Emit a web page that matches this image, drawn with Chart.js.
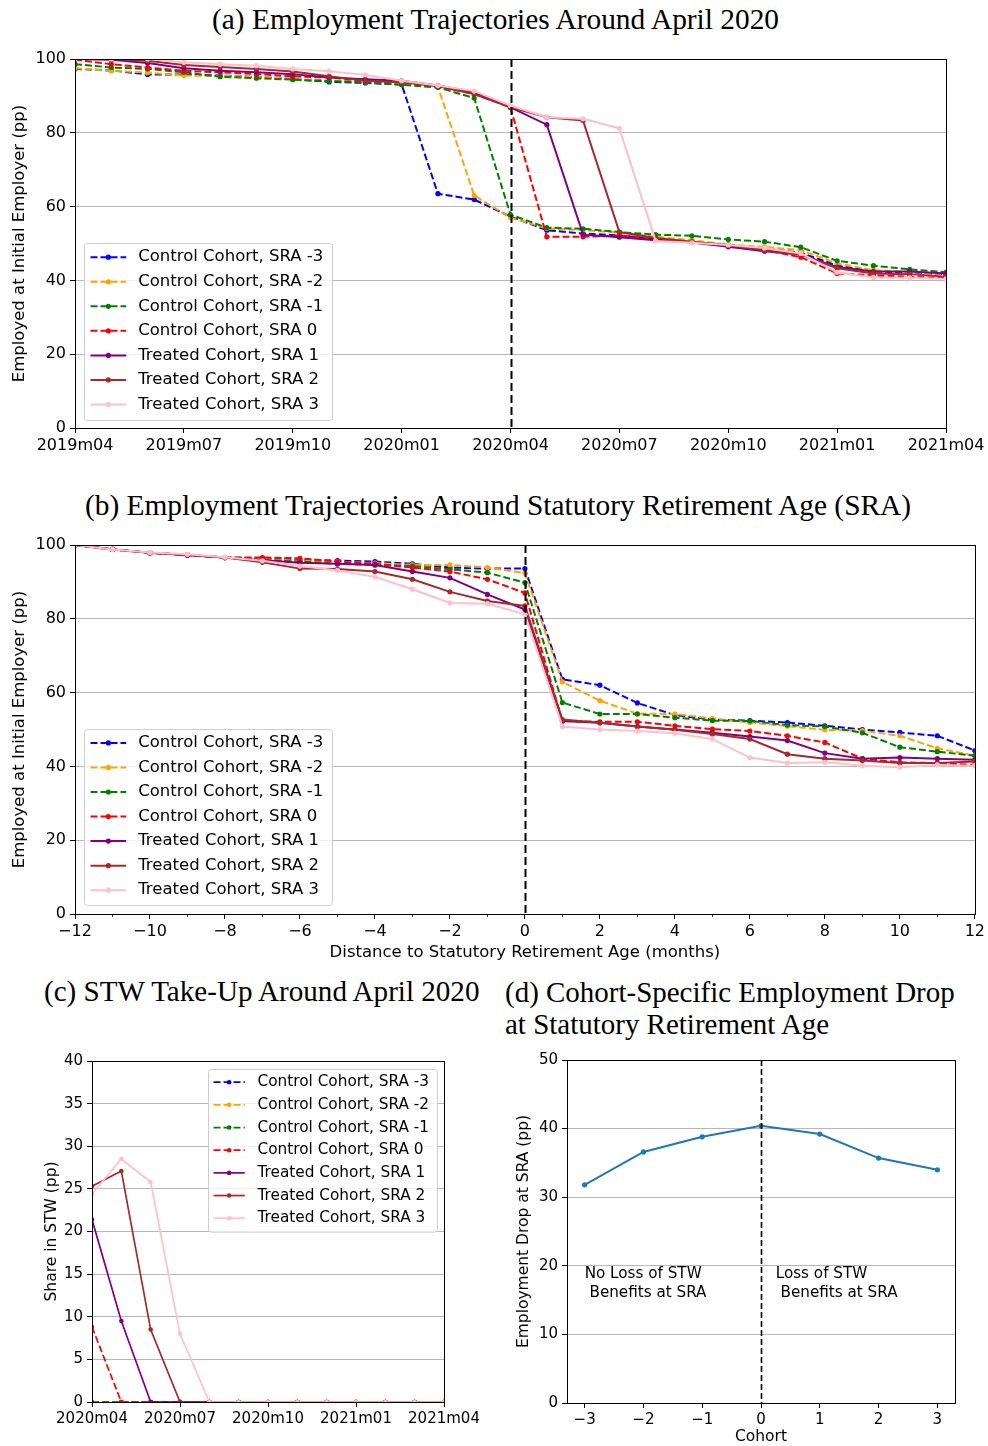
<!DOCTYPE html>
<html><head><meta charset="utf-8">
<script src="https://cdn.jsdelivr.net/npm/chart.js@4.4.1/dist/chart.umd.min.js"></script>
<style>
html,body{margin:0;padding:0;background:#fff;}
body{width:988px;height:1446px;position:relative;overflow:hidden;}
canvas{position:absolute;}
.ttl{position:absolute;font-family:'Liberation Serif',serif;color:#000;white-space:pre;line-height:1;}
</style></head><body>
<div id="tA" class="ttl">(a) Employment Trajectories Around April 2020</div>
<div id="tB" class="ttl">(b) Employment Trajectories Around Statutory Retirement Age (SRA)</div>
<div id="tC" class="ttl">(c) STW Take-Up Around April 2020</div>
<div id="tD1" class="ttl">(d) Cohort-Specific Employment Drop</div>
<div id="tD2" class="ttl">at Statutory Retirement Age</div>
<canvas id="cA" width="988" height="460" style="left:0;top:0;width:988px;height:460px"></canvas>
<canvas id="cB" width="988" height="490" style="left:0;top:480px;width:988px;height:490px"></canvas>
<canvas id="cC" width="494" height="406" style="left:0;top:1040px;width:494px;height:406px"></canvas>
<canvas id="cD" width="494" height="406" style="left:494px;top:1040px;width:494px;height:406px"></canvas>
<script>
// ---------------- DATA ----------------
const seriesLabels = ['Control Cohort, SRA -3','Control Cohort, SRA -2','Control Cohort, SRA -1','Control Cohort, SRA 0','Treated Cohort, SRA 1','Treated Cohort, SRA 2','Treated Cohort, SRA 3'];

// Panel (a): months 2019m04 .. 2021m04
const monthsA = ['2019m04','2019m05','2019m06','2019m07','2019m08','2019m09','2019m10','2019m11','2019m12','2020m01','2020m02','2020m03','2020m04','2020m05','2020m06','2020m07','2020m08','2020m09','2020m10','2020m11','2020m12','2021m01','2021m02','2021m03','2021m04'];
const tickLabelsA = ['2019m04','2019m07','2019m10','2020m01','2020m04','2020m07','2020m10','2021m01','2021m04'];
const eventMonthA = '2020m04';
const a_sraM3 = [97.3,96.9,95.8,95.8,95.5,95.1,94.6,93.8,93.5,93.1,63.5,61.9,57.3,53.6,52.7,52.2,51.3,50.5,49.6,48.7,47.5,44.0,42.4,42.2,41.7];
const a_sraM2 = [97.5,96.8,96.3,95.5,95.4,95.2,94.6,94.2,93.8,93.3,92.5,63.0,57.0,54.1,53.6,53.0,51.8,50.9,49.7,49.1,48.2,44.6,42.8,42.3,41.7];
const a_sraM1 = [98.6,97.7,97.3,96.4,95.2,94.8,94.4,94.0,93.7,93.0,92.3,89.4,57.8,54.3,54.0,53.1,52.4,52.1,51.1,50.5,49.0,45.3,44.0,43.0,42.2];
const a_sra0  = [99.8,98.6,97.7,96.8,96.4,95.9,95.3,95.0,94.1,93.7,92.6,90.5,86.9,51.8,51.8,52.2,51.3,50.3,49.6,48.2,46.3,41.9,41.4,41.0,40.6];
const a_sra1  = [100,99.8,98.9,97.5,96.8,96.4,95.9,95.0,94.5,94.1,92.8,91.0,86.9,82.2,52.4,51.7,50.9,50.3,49.1,47.9,47.0,43.6,42.4,42.4,41.9];
const a_sra2  = [100,100,99.5,98.4,97.8,97.3,96.6,95.3,94.1,93.7,92.6,90.5,86.9,84.2,83.3,53.1,51.5,50.5,49.5,48.2,47.0,43.3,41.9,41.7,41.0];
const a_sra3  = [100,100,100,99.1,98.6,98.2,97.3,96.7,95.7,94.1,92.8,91.3,87.4,84.2,83.8,81.2,50.7,50.2,49.6,48.8,47.3,42.2,40.8,40.7,40.4];

// Panel (b): distance to SRA in months
const distanceB = [-12,-11,-10,-9,-8,-7,-6,-5,-4,-3,-2,-1,0,1,2,3,4,5,6,7,8,9,10,11,12];
const tickValuesB = [-12,-10,-8,-6,-4,-2,0,2,4,6,8,10,12];
const minorTicksB = [-11,-9,-7,-5,-3,-1,1,3,5,7,9,11];
const b_sraM3 = [100,98.8,97.9,97.3,96.6,96.4,95.9,95.8,95.5,94.9,93.9,93.6,93.6,63.6,62.0,57.2,53.9,52.7,52.4,51.9,51.0,50.0,49.2,48.3,44.3];
const b_sraM2 = [100,98.8,97.9,97.3,96.6,96.2,95.7,95.5,95.1,94.6,94.6,93.9,92.4,62.9,57.8,54.3,54.2,53.0,51.9,50.9,49.9,49.7,48.3,44.9,42.9];
const b_sraM1 = [100,98.8,97.9,97.3,96.6,95.9,95.5,94.9,94.6,94.3,93.4,92.5,89.8,57.3,54.2,54.2,53.2,52.4,52.3,51.2,50.8,49.1,45.2,44.0,42.9];
const b_sra0  = [100,98.8,97.9,97.3,96.6,96.6,96.4,95.5,94.9,93.9,92.8,90.7,87.0,52.3,52.1,52.1,51.0,50.1,49.6,48.3,46.5,42.1,41.1,40.9,40.4];
const b_sra1  = [100,98.8,97.9,97.3,96.6,95.9,95.2,94.9,94.6,92.8,91.1,86.6,82.5,52.3,51.8,50.8,50.0,49.1,48.1,47.0,43.6,42.1,42.4,42.1,41.8];
const b_sra2  = [100,98.8,97.9,97.3,96.6,95.3,93.6,93.5,92.8,90.7,87.3,84.8,83.5,52.7,51.8,50.8,49.9,48.8,47.4,43.3,42.1,41.6,40.9,40.9,41.3];
const b_sra3  = [100,98.8,98.0,97.5,96.7,95.7,94.3,93.1,91.4,88.0,84.3,84.1,81.2,50.8,50.0,49.6,49.0,47.4,42.4,40.9,41.1,40.2,39.8,40.4,40.2];

// Panel (c): months 2020m04 .. 2021m04
const monthsC = ['2020m04','2020m05','2020m06','2020m07','2020m08','2020m09','2020m10','2020m11','2020m12','2021m01','2021m02','2021m03','2021m04'];
const tickLabelsC = ['2020m04','2020m07','2020m10','2021m01','2021m04'];
const c_sraM3 = [0,0,0,0,0,0,0,0,0,0,0,0,0];
const c_sraM2 = [0,0,0,0,0,0,0,0,0,0,0,0,0];
const c_sraM1 = [0,0,0,0,0,0,0,0,0,0,0,0,0];
const c_sra0  = [8.8,0,0,0,0,0,0,0,0,0,0,0,0];
const c_sra1  = [21.4,9.5,0,0,0,0,0,0,0,0,0,0,0];
const c_sra2  = [25.3,27.1,8.5,0,0,0,0,0,0,0,0,0,0];
const c_sra3  = [24.4,28.5,25.8,8.0,0,0,0,0,0,0,0,0,0];

// Panel (d)
const cohortsD = [-3,-2,-1,0,1,2,3];
const dropD = [31.8,36.6,38.8,40.4,39.2,35.7,34.0];
const noteLeft = ['No Loss of STW',' Benefits at SRA'];
const noteRight = ['Loss of STW',' Benefits at SRA'];
const noteLeftX = -3, noteRightX = 0.25, noteY = 20;

// ---------------- STYLE ----------------
const seriesColors = ['#0000ff','#ffa500','#008000','#ff0000','#800080','#a52a2a','#ffc0cb'];
const seriesDashed = [true,true,true,true,false,false,false];
const FONT = "'DejaVu Sans', sans-serif";
Chart.defaults.font.family = FONT;
Chart.defaults.color = '#000';

function mkDatasets(seriesList, xs, lw, pr) {
  return seriesList.map((vals, i) => ({
    label: seriesLabels[i],
    data: vals.map((v, j) => ({x: xs[j], y: v})),
    borderColor: seriesColors[i], backgroundColor: seriesColors[i],
    pointBackgroundColor: seriesColors[i], pointBorderWidth: 0,
    borderWidth: lw, borderDash: seriesDashed[i] ? [7, 3] : [],
    pointRadius: pr, pointHoverRadius: pr, tension: 0, fill: false,
    order: seriesList.length - i
  }));
}

function yScale(min, max, step, fs, title, titlePad, width) {
  return {
    type: 'linear', min, max,
    afterBuildTicks: s => { const t = []; for (let v = min; v <= max + 1e-9; v += step) t.push({value: v}); s.ticks = t; },
    ticks: {font: {size: fs}, color: '#000', padding: 4},
    grid: {color: '#b0b0b0', lineWidth: 0.9, tickLength: 5, tickColor: '#000', tickWidth: 1, drawTicks: true},
    border: {display: true, color: '#000', width: 1},
    title: {display: true, text: title, font: {size: fs + 0.5}, color: '#000', padding: {top: titlePad, bottom: 0}},
    afterFit: s => { s.width = width; }
  };
}
function xScale(min, max, tickVals, fmt, fs, height, title, titlePad) {
  return {
    type: 'linear', min, max,
    afterBuildTicks: s => { s.ticks = tickVals.map(v => ({value: v})); },
    ticks: {callback: fmt, font: {size: fs}, color: '#000', padding: 3, maxRotation: 0, autoSkip: false, includeBounds: false},
    grid: {drawOnChartArea: false, tickLength: 5, tickColor: '#000', tickWidth: 1, color: '#000'},
    border: {display: true, color: '#000', width: 1},
    title: title ? {display: true, text: title, font: {size: fs + 0.5}, color: '#000', padding: {top: 0, bottom: titlePad}} : {display: false},
    afterFit: s => { s.height = height; }
  };
}
const minusFmt = v => (v < 0 ? '\u2212' + Math.abs(v) : String(v));

const decoPlugin = {
  id: 'deco',
  afterDatasetsDraw(chart, args, o) {
    const ctx = chart.ctx, ca = chart.chartArea, xs = chart.scales.x, ys = chart.scales.y;
    ctx.save();
    if (o.vline) {
      const px = Math.round(xs.getPixelForValue(o.vline.x)) + 0.5;
      ctx.beginPath(); ctx.setLineDash(o.vline.dash); ctx.lineWidth = o.vline.width; ctx.strokeStyle = '#000';
      ctx.moveTo(px, ca.top); ctx.lineTo(px, ca.bottom); ctx.stroke(); ctx.setLineDash([]);
    }
    // frame
    ctx.beginPath(); ctx.lineWidth = 1; ctx.strokeStyle = '#000';
    ctx.strokeRect(Math.round(ca.left) + 0.5, Math.round(ca.top) + 0.5, Math.round(ca.right) - Math.round(ca.left), Math.round(ca.bottom) - Math.round(ca.top));
    if (o.minor) {
      ctx.beginPath(); ctx.lineWidth = 0.8;
      o.minor.forEach(v => { const px = Math.round(xs.getPixelForValue(v)) + 0.5; ctx.moveTo(px, ca.bottom); ctx.lineTo(px, ca.bottom + 3); });
      ctx.stroke();
    }
    if (o.notes) {
      ctx.fillStyle = '#000'; ctx.font = o.notes.font; ctx.textBaseline = 'top'; ctx.textAlign = 'left';
      o.notes.items.forEach(n => {
        const px = xs.getPixelForValue(n.x), py = ys.getPixelForValue(n.y) + 1;
        n.lines.forEach((ln, k) => ctx.fillText(ln, px, py + k * o.notes.lh));
      });
    }
    if (o.legend) {
      const L = o.legend;
      const bx = Math.round(ca.left + L.dx) + 0.5, by = Math.round(ca.top + L.dy) + 0.5;
      ctx.beginPath();
      if (ctx.roundRect) ctx.roundRect(bx, by, L.w, L.h, 3); else ctx.rect(bx, by, L.w, L.h);
      ctx.fillStyle = 'rgba(255,255,255,0.8)'; ctx.fill();
      ctx.strokeStyle = '#cccccc'; ctx.lineWidth = 1; ctx.stroke();
      chart.data.datasets.forEach((ds, i) => {
        const y = by + L.first + i * L.step;
        ctx.beginPath(); ctx.setLineDash(ds.borderDash || []); ctx.strokeStyle = ds.borderColor; ctx.lineWidth = ds.borderWidth;
        ctx.moveTo(bx + L.l0, y); ctx.lineTo(bx + L.l1, y); ctx.stroke(); ctx.setLineDash([]);
        ctx.beginPath(); ctx.arc(bx + (L.l0 + L.l1) / 2, y, ds.pointRadius, 0, 2 * Math.PI); ctx.fillStyle = ds.borderColor; ctx.fill();
        ctx.fillStyle = '#000'; ctx.font = L.font; ctx.textBaseline = 'middle'; ctx.textAlign = 'left';
        ctx.fillText(ds.label, bx + L.tx, y);
      });
    }
    ctx.restore();
  }
};

function baseOpts(padding, scales, deco) {
  return {
    responsive: false, animation: false, devicePixelRatio: 1, events: [],
    layout: {padding},
    scales,
    plugins: {legend: {display: false}, tooltip: {enabled: false}, title: {display: false}, deco}
  };
}

// ---------- Panel (a) ----------
const idxA = monthsA.map((m, i) => i);
const tickValsA = tickLabelsA.map(l => monthsA.indexOf(l));
new Chart(document.getElementById('cA'), {
  type: 'line',
  data: {datasets: mkDatasets([a_sraM3, a_sraM2, a_sraM1, a_sra0, a_sra1, a_sra2, a_sra3], idxA, 2, 2.6)},
  options: baseOpts({top: 59, right: 42, left: 0, bottom: 0}, {
    x: xScale(0, monthsA.length - 1, tickValsA, v => monthsA[v], 16, 32, null, 0),
    y: yScale(0, 100, 20, 16, 'Employed at Initial Employer (pp)', 10, 75)
  }, {
    vline: {x: monthsA.indexOf(eventMonthA), dash: [8, 4], width: 2},
    legend: {dx: 9, dy: 184, w: 248, h: 177, first: 13.7, step: 24.55, l0: 6, l1: 41.7, tx: 53.7, font: "16.5px " + FONT}
  }),
  plugins: [decoPlugin]
});

// ---------- Panel (b) ----------
new Chart(document.getElementById('cB'), {
  type: 'line',
  data: {datasets: mkDatasets([b_sraM3, b_sraM2, b_sraM1, b_sra0, b_sra1, b_sra2, b_sra3], distanceB, 2, 2.6)},
  options: baseOpts({top: 65, right: 13, left: 0, bottom: 0}, {
    x: xScale(-12, 12, tickValuesB, minusFmt, 16, 56, 'Distance to Statutory Retirement Age (months)', 7),
    y: yScale(0, 100, 20, 16, 'Employed at Initial Employer (pp)', 10, 75)
  }, {
    vline: {x: 0, dash: [8, 4], width: 2},
    minor: minorTicksB,
    legend: {dx: 9, dy: 184.3, w: 248, h: 176, first: 13.4, step: 24.55, l0: 6, l1: 41.7, tx: 53.7, font: "16.5px " + FONT}
  }),
  plugins: [decoPlugin]
});

// ---------- Panel (c) ----------
const idxC = monthsC.map((m, i) => i);
const tickValsC = tickLabelsC.map(l => monthsC.indexOf(l));
new Chart(document.getElementById('cC'), {
  type: 'line',
  data: {datasets: mkDatasets([c_sraM3, c_sraM2, c_sraM1, c_sra0, c_sra1, c_sra2, c_sra3], idxC, 1.7, 2.3)},
  options: baseOpts({top: 21, right: 50, left: 0, bottom: 0}, {
    x: xScale(0, monthsC.length - 1, tickValsC, v => monthsC[v], 15, 44, null, 0),
    y: yScale(0, 40, 5, 15, 'Share in STW (pp)', 43, 92)
  }, {
    legend: {dx: 115.7, dy: 8, w: 229, h: 162.7, first: 12.7, step: 22.67, l0: 5, l1: 36.3, tx: 49, font: "15.3px " + FONT}
  }),
  plugins: [decoPlugin]
});

// ---------- Panel (d) ----------
new Chart(document.getElementById('cD'), {
  type: 'line',
  data: {datasets: [{
    label: 'Employment Drop at SRA',
    data: dropD.map((v, i) => ({x: cohortsD[i], y: v})),
    borderColor: '#1f77b4', backgroundColor: '#1f77b4', pointBackgroundColor: '#1f77b4', pointBorderWidth: 0,
    borderWidth: 2, pointRadius: 2.6, pointHoverRadius: 2.6, tension: 0, fill: false
  }]},
  options: baseOpts({top: 20, right: 33, left: 0, bottom: 0}, {
    x: xScale(-3.3, 3.3, cohortsD, minusFmt, 15, 43, 'Cohort', 0),
    y: yScale(0, 50, 10, 15, 'Employment Drop at SRA (pp)', 21, 73)
  }, {
    vline: {x: 0, dash: [6, 3], width: 1.6},
    notes: {font: "15.2px " + FONT, lh: 18.3, items: [
      {x: noteLeftX, y: noteY, lines: noteLeft},
      {x: noteRightX, y: noteY, lines: noteRight}
    ]}
  }),
  plugins: [decoPlugin]
});

// ---------- Titles ----------
const mctx = document.createElement('canvas').getContext('2d');
function placeTitle(id, targetW, x, cy, alignLeft, forcedSize) {
  const el = document.getElementById(id);
  mctx.font = "100px 'Liberation Serif'";
  const w = mctx.measureText(el.textContent).width;
  const size = forcedSize || (targetW / w * 100);
  el.style.fontSize = size + 'px';
  el.style.top = (cy - size / 2) + 'px';
  const realW = w * size / 100;
  el.style.left = (alignLeft ? x : x - realW / 2) + 'px';
  return size;
}
placeTitle('tA', 571, 497.5, 20, false);
placeTitle('tB', 830, 500, 506, false);
placeTitle('tC', 440, 264, 992, false);
const sD = placeTitle('tD1', 450, 505, 992, true);
placeTitle('tD2', 0, 505, 1024, true, sD);
</script>
</body></html>
